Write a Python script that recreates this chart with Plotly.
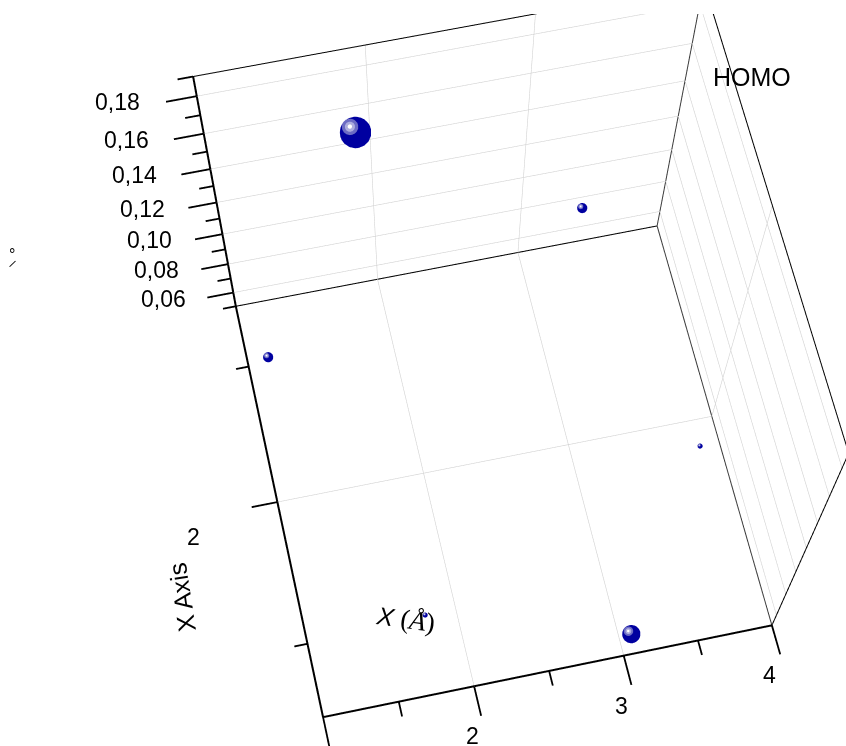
import numpy as np
import plotly.graph_objects as go

# --- data ---
atom_x = [1.846, 3.401, 1.130, 3.821, 1.780, 3.017]
atom_y = [2.523, 2.691, 2.375, 1.865, 1.483, 1.255]
homo   = [0.180, 0.080, 0.080, 0.060, 0.060, 0.070]
diam   = [31, 10, 10, 5, 5, 18]

x_major = [1, 2, 3, 4]
x_minor = [1.5, 2.5, 3.5]
x_labels = {2: "2", 3: "3", 4: "4"}
y_major = [2]
y_minor = [1.5, 2.5]
y_labels = {2: "2"}
z_major = [0.06, 0.08, 0.10, 0.12, 0.14, 0.16, 0.18]
z_minor = [0.05, 0.07, 0.09, 0.11, 0.13, 0.15, 0.17, 0.19]
z_labels = ["0,06", "0,08", "0,10", "0,12", "0,14", "0,16", "0,18"]

# box limits
x0, x1 = 1.0, 4.0
y0, y1 = 1.25, 2.73
z0, z1 = 0.05, 0.19

# camera (fitted to the reference; box-centred model units)
eye_b = np.array([-0.5538, -1.8987, 3.4914])
fwd = np.array([0.0608, 0.2794, -0.9582])
up = np.array([0.2035, 0.9364, 0.286])
box_scale = np.array([1.0, 1.0249, 0.812])
FOCAL = 1915.9
W, H, TOP = 871, 1601, 14
MARKER_GAIN = 1.18

# padded scene range so the outward ticks are not clipped
rx = [0.80, 4.005]
ry = [1.13, 2.735]
rz = [0.0495, 0.1905]
k = box_scale / np.array([x1 - x0, y1 - y0, z1 - z0])
mid_box = np.array([(x0 + x1) / 2, (y0 + y1) / 2, (z0 + z1) / 2])
mid_pad = np.array([sum(rx) / 2, sum(ry) / 2, sum(rz) / 2])
offset = (mid_box - mid_pad) * k
aspect = k * np.array([rx[1] - rx[0], ry[1] - ry[0], rz[1] - rz[0]])
eye = eye_b + offset
center = eye + fwd * 3.9
right = np.cross(fwd, up)
right = right / np.linalg.norm(right)
sup = np.cross(right, fwd)
px_model = 3.9 / FOCAL


def segs(items):
    xs, ys, zs = [], [], []
    for (a, b) in items:
        xs += [a[0], b[0], None]
        ys += [a[1], b[1], None]
        zs += [a[2], b[2], None]
    return xs, ys, zs


def lines(items, color, width):
    xs, ys, zs = segs(items)
    return go.Scatter3d(x=xs, y=ys, z=zs, mode="lines", hoverinfo="skip", showlegend=False,
                        connectgaps=False, line=dict(color=color, width=width))


fig = go.Figure()

# gridlines on floor and the two back walls
grid = []
for v in [2, 3]:
    grid += [((v, y0, z0), (v, y1, z0)), ((v, y1, z0), (v, y1, z1))]
for v in y_major:
    grid += [((x0, v, z0), (x1, v, z0)), ((x1, v, z0), (x1, v, z1))]
for v in z_major:
    grid += [((x0, y1, v), (x1, y1, v)), ((x1, y0, v), (x1, y1, v))]
fig.add_trace(lines(grid, "#d2d2d2", 1.2))

# box edges
thin = [((x0, y1, z0), (x1, y1, z0)), ((x0, y1, z1), (x1, y1, z1)),
        ((x1, y1, z1), (x1, y0, z1)), ((x1, y0, z0), (x1, y0, z1))]
fig.add_trace(lines(thin, "#000000", 2))
grey = [((x1, y0, z0), (x1, y1, z0)), ((x1, y1, z0), (x1, y1, z1))]
fig.add_trace(lines(grey, "#3c3c3c", 2))
thick = [((x0, y0, z0), (x1, y0, z0)), ((x0, y0, z0), (x0, y1, z0)), ((x0, y1, z0), (x0, y1, z1))]
fig.add_trace(lines(thick, "#000000", 4))

# ticks
XL, YL, ZL = 0.10, 0.175, 0.18
ticks = [((v, y0, z0), (v, y0 - XL, z0)) for v in x_major]
ticks += [((v, y0, z0), (v, y0 - XL / 2, z0)) for v in x_minor]
ticks += [((x0, v, z0), (x0 - YL, v, z0)) for v in y_major]
ticks += [((x0, v, z0), (x0 - YL / 2, v, z0)) for v in y_minor]
ticks += [((x0, y1, v), (x0 - ZL, y1, v)) for v in z_major]
ticks += [((x0, y1, v), (x0 - ZL / 2, y1, v)) for v in z_minor]
fig.add_trace(lines(ticks, "#000000", 3.6))


# spheres: body plus highlight rings shifted up-left, lifted along the line of sight
def layer(color, ratio, shift, lift):
    d = np.array(diam, float)
    pos = np.array([atom_x, atom_y, homo], float).T
    m = np.outer(d * shift * px_model, sup - right)
    sight = eye_b - (pos - mid_box) * k
    sight = sight / np.linalg.norm(sight, axis=1, keepdims=True)
    pos = pos + (m + sight * lift) / k
    fig.add_trace(go.Scatter3d(x=pos[:, 0], y=pos[:, 1], z=pos[:, 2], mode="markers",
                               hoverinfo="skip", showlegend=False,
                               marker=dict(size=d * ratio * MARKER_GAIN, color=color, opacity=1,
                                           line=dict(width=0))))


layer("#0000a0", 1.0, 0, 0)
layer("#6c6cc4", 0.52, 0.16, 0.02)
layer("#adadde", 0.32, 0.16, 0.04)
layer("#ffffff", 0.14, 0.16, 0.06)

FONT = "Liberation Sans, Arial, sans-serif"
scene_notes = []
for v, t in x_labels.items():
    scene_notes.append(dict(x=v, y=y0, z=z0, text=t, showarrow=False, xshift=-2, yshift=-50,
                            font=dict(family=FONT, size=23, color="black")))
for v, t in y_labels.items():
    scene_notes.append(dict(x=x0, y=v, z=z0, text=t, showarrow=False, xshift=-84, yshift=-35,
                            font=dict(family=FONT, size=23, color="black")))
for v, t in zip(z_major, z_labels):
    scene_notes.append(dict(x=x0, y=y1, z=v, text=t, showarrow=False,
                            xshift=float(np.interp(v, [0.06, 0.18], [-69.5, -79])), yshift=-6,
                            font=dict(family=FONT, size=23, color="black")))


def paper(px, py, text, size, angle=0, family=FONT):
    return dict(xref="paper", yref="paper", x=px / W, y=1 - (py - TOP) / (H - TOP), text=text,
                showarrow=False, xanchor="center", yanchor="middle", textangle=angle,
                font=dict(family=family, size=size, color="black"))


notes = [
    paper(752, 77, "HOMO", 25),
    paper(182, 598, "X Axis", 25, -98.6),
    paper(405, 619, "<i>X</i> <span style='font-family:Liberation Serif;font-size:27px'>(<i>Å</i>)</span>", 25, 8),
    paper(12, 254, "°", 16),
    paper(13, 264, "/", 11, 30),
]

fig.update_layout(
    width=W, height=H, autosize=False, margin=dict(l=0, r=0, t=TOP, b=0, pad=0),
    paper_bgcolor="white", plot_bgcolor="white", showlegend=False, annotations=notes,
    scene=dict(
        domain=dict(x=[0, 1], y=[0, 1]), bgcolor="white",
        aspectmode="manual", aspectratio=dict(x=float(aspect[0]), y=float(aspect[1]), z=float(aspect[2])),
        camera=dict(eye=dict(zip("xyz", map(float, eye))), center=dict(zip("xyz", map(float, center))),
                    up=dict(zip("xyz", map(float, up))), projection=dict(type="perspective")),
        xaxis=dict(range=rx, visible=False), yaxis=dict(range=ry, visible=False), zaxis=dict(range=rz, visible=False),
        annotations=scene_notes,
    ),
)
fig.write_html("out.html", config=dict(displayModeBar=False),
               post_script="document.body.style.margin='0';document.documentElement.style.overflow='hidden';")
